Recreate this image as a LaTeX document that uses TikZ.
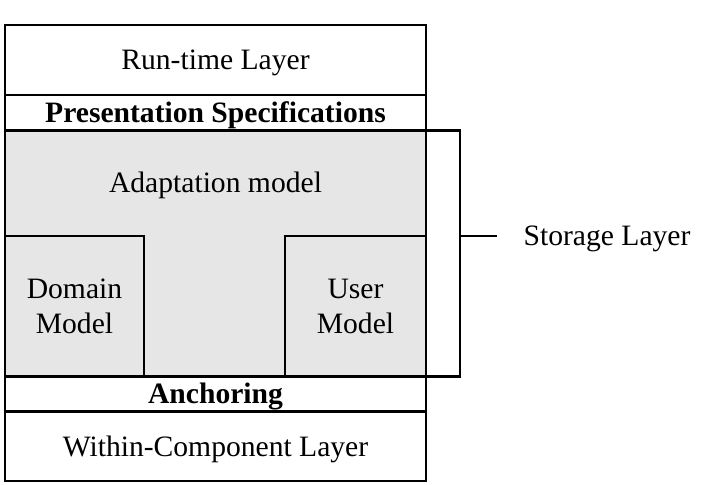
\documentclass[tikz,border=0pt]{standalone}
\usepackage{fontspec}
\setmainfont{Liberation Serif}
\usetikzlibrary{positioning}
\definecolor{modelgray}{RGB}{230,230,230}
\tikzset{
    %Define style for the layer bands
    layer/.style={
           rectangle,
           draw=black, line width=1.1pt,
           minimum width=210.5pt,
           inner sep=0pt, outer sep=0pt,
           text height=11.5pt, text depth=1.5pt,
           font=\fontsize{14.8}{17.5}\selectfont,
           text centered,
           },
    spec/.style={
           layer,
           font=\fontsize{14.8}{17.5}\selectfont\bfseries,
           },
    % Define style for the model boxes
    model/.style={
           rectangle,
           draw=black, line width=1.1pt,
           fill=modelgray,
           inner sep=0pt, outer sep=0pt,
           minimum height=70.25pt,
           align=center,
           font=\fontsize{14.8}{17.5}\selectfont,
           },
    plain/.style={
           inner sep=0pt,
           text height=11.5pt, text depth=1.5pt,
           font=\fontsize{14.8}{17.5}\selectfont,
           },
}

\begin{document}
\begin{tikzpicture}[x=0.5pt,y=-0.5pt,line width=1.1pt]
\useasboundingbox (0,0) rectangle (706,485);

 %nodes
\node[layer, minimum height=35pt](runtime) at (215.5,60){Run-time Layer};
\node[spec, minimum height=17.75pt, below=0pt of runtime](present){Presentation Specifications};
\node[layer, fill=modelgray, minimum height=123pt, below=0pt of present](storage){};
\node[spec, minimum height=17.5pt, below=0pt of storage](anchoring){Anchoring};
\node[layer, minimum height=34.75pt, below=0pt of anchoring](within){Within-Component Layer};
\node[model, minimum width=69.5pt, anchor=south west] (domain) at (storage.south west){Domain\\Model};
\node[model, minimum width=70.5pt, anchor=south east] (user) at (storage.south east){User\\Model};
\node[plain](adaptation) at (215.5,183){Adaptation model};

 %bracket
\coordinate (bracket top) at (460,130.5);
\coordinate (bracket bottom) at (460,376.5);
\coordinate (tick) at (460,236);
\node[plain, inner xsep=13pt, anchor=west](storagelabel) at (496.5,236){Storage Layer};
\draw (storage.north east) -- (bracket top) -- (bracket bottom) -- (storage.south east);
\draw (tick) -- (storagelabel);

\end{tikzpicture}
\end{document}
